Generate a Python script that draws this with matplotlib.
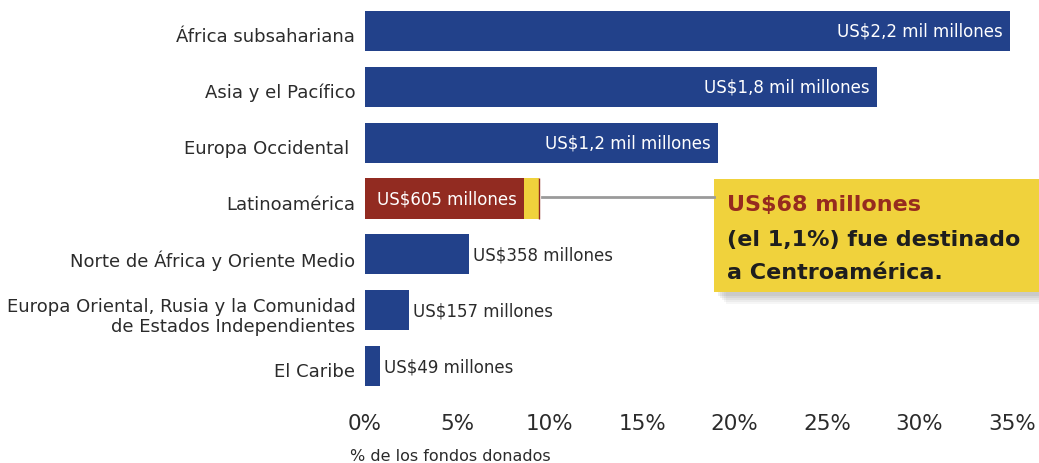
import matplotlib
matplotlib.use('Agg')
import matplotlib.pyplot as plt
import matplotlib.transforms as mtransforms
from matplotlib.patches import Rectangle

# Data
regions = ['África subsahariana', 'Asia y el Pacífico', 'Europa Occidental ',
           'Latinoamérica', 'Norte de África y Oriente Medio',
           'Europa Oriental, Rusia y la Comunidad\nde Estados Independientes',
           'El Caribe']
shares = [34.9, 27.7, 19.1, 8.6, 5.6, 2.4, 0.8]   # % de los fondos donados
central_america = 0.8                              # yellow slice of Latinoamérica
amounts = ['US$2,2 mil millones', 'US$1,8 mil millones', 'US$1,2 mil millones',
           'US$605 millones', 'US$358 millones', 'US$157 millones', 'US$49 millones']
inside = [True, True, True, True, False, False, False]
xticks = [0, 5, 10, 15, 20, 25, 30, 35]

BLUE = '#22418a'
RED = '#922b21'
YELLOW = '#f0d23c'
TEXT = '#2b2b2b'

plt.rcParams['font.family'] = ['DejaVu Sans']

W, H = 1039, 464
fig = plt.figure(figsize=(W / 100, H / 100), dpi=100)
ax = fig.add_axes([365 / W, 1 - 395 / H, (1012 - 365) / W, (395 - 4) / H])

y = list(range(len(regions)))
colors = [RED if r == 'Latinoamérica' else BLUE for r in regions]
ax.barh(y, shares, height=0.72, color=colors, edgecolor='none')

li = regions.index('Latinoamérica')
ax.barh(li, central_america, left=shares[li], height=0.72, color=YELLOW, edgecolor='none')
lat_end = shares[li] + central_america
ax.vlines(lat_end, li - 0.36, li + 0.36, color=RED, lw=1)

for i, (v, lab, ins) in enumerate(zip(shares, amounts, inside)):
    if ins:
        ax.annotate(lab, (v, i), xytext=(-7, 0), textcoords='offset pixels',
                    ha='right', va='center', color='white', fontsize=12)
    else:
        ax.annotate(lab, (v, i), xytext=(4, 0), textcoords='offset pixels',
                    ha='left', va='center', color=TEXT, fontsize=12)

ax.set_xlim(0, 35)
ax.set_ylim(len(regions) - 0.5, -0.5)
ax.set_yticks(y)
ax.set_yticklabels(regions, fontsize=13, color=TEXT, linespacing=1.15)
ax.set_xticks(xticks)
ax.set_xticklabels([f'{t}%' for t in xticks], fontsize=15.5, color=TEXT)
ax.tick_params(axis='both', length=0)
ax.tick_params(axis='x', pad=14)
ax.tick_params(axis='y', pad=7)
for s in ax.spines.values():
    s.set_visible(False)

# category names sit a little below the bar centre in the original
shift = mtransforms.ScaledTranslation(0, -3 / 100, fig.dpi_scale_trans)
for lbl in ax.get_yticklabels():
    lbl.set_transform(lbl.get_transform() + shift)

fig.text(350 / W, 1 - 457 / H, '% de los fondos donados', fontsize=11.5,
         color=TEXT, va='center', ha='left')

# callout box with soft shadow
bx, by, bw, bh = 714, 180, 340, 113
for k, a in enumerate([0.05, 0.06, 0.07, 0.08, 0.09]):
    off = 12 - 2 * k
    fig.add_artist(Rectangle(((bx + off) / W, 1 - (by + bh + off) / H),
                             bw / W, bh / H, transform=fig.transFigure,
                             facecolor='#555555', alpha=a, edgecolor='none'))
fig.add_artist(Rectangle((bx / W, 1 - (by + bh) / H), bw / W, bh / H,
                         transform=fig.transFigure, facecolor=YELLOW,
                         edgecolor='none'))
fig.text(727 / W, 1 - 205 / H, 'US$68 millones', fontsize=16, weight='bold',
         color='#962b1f', va='center')
fig.text(727 / W, 1 - 240 / H, '(el 1,1%) fue destinado', fontsize=16,
         weight='bold', color='#1e1e1e', va='center')
fig.text(727 / W, 1 - 273 / H, 'a Centroamérica.', fontsize=16,
         weight='bold', color='#1e1e1e', va='center')

# connector from Latinoamérica bar to the box
x0 = ax.transData.transform((lat_end, li))
line_y = 1 - 198 / H
fig.add_artist(plt.Line2D([(x0[0] + 3) / W, bx / W], [line_y, line_y],
                          transform=fig.transFigure, color='#9a9a9a', lw=2))

fig.savefig('out.png', dpi=100)
